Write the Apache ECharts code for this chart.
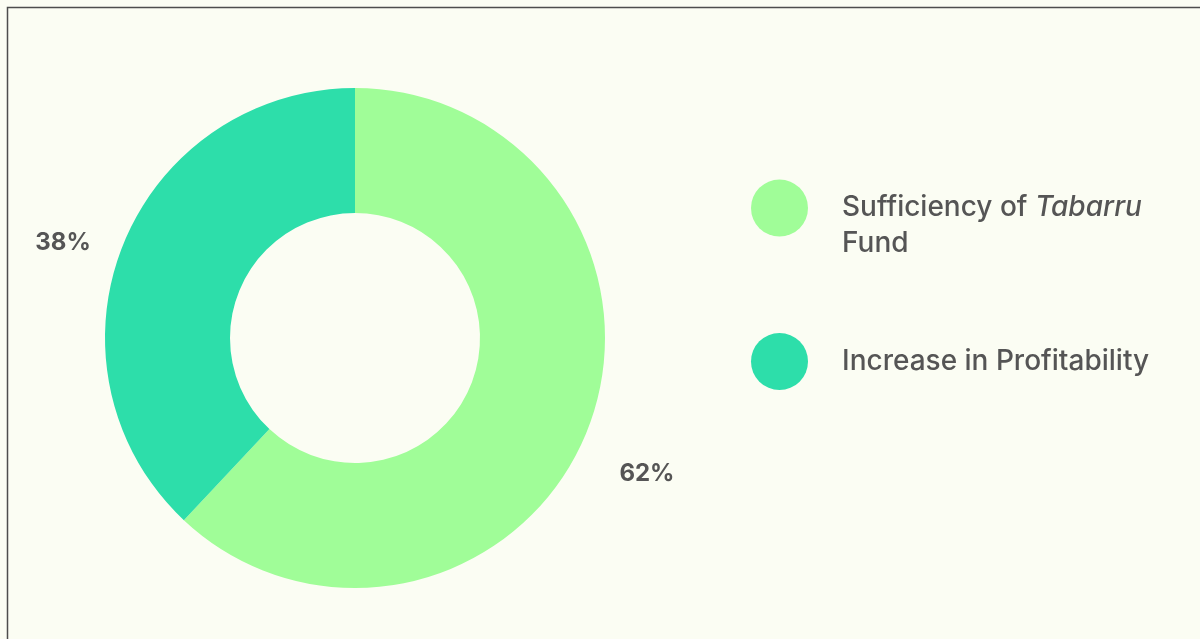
<!DOCTYPE html>
<html>
<head>
<meta charset="utf-8">
<script src="https://cdn.jsdelivr.net/npm/echarts@6/dist/echarts.min.js"></script>
<style>
html,body{margin:0;padding:0;background:#fbfdf3;}
#c{width:1200px;height:639px;}
</style>
</head>
<body>
<div id="c"></div>
<script>
const categories = ['Sufficiency of Tabarru Fund', 'Increase in Profitability'];
const values = [62, 38];
const colors = ['#a0fd98', '#2ddeaa'];

const pieData = categories.map((n, i) => ({ name: n, value: values[i], itemStyle: { color: colors[i] } }));

const chart = echarts.init(document.getElementById('c'), null, { renderer: 'canvas' });
chart.setOption({
  backgroundColor: '#fbfdf3',
  animation: false,
  graphic: [{
    type: 'rect', silent: true, z: 100,
    shape: { x: 7.5, y: 7.5, width: 1400, height: 900 },
    style: { fill: 'none', stroke: '#4d4d4d', lineWidth: 1.5 }
  }],
  legend: {
    orient: 'vertical',
    left: 751,
    top: 154,
    padding: 0,
    icon: 'circle',
    itemWidth: 57,
    itemHeight: 57,
    itemGap: 71,
    selectedMode: false,
    data: [
      { name: categories[0], textStyle: { padding: [36, 0, 0, 29] } },
      { name: categories[1] }
    ],
    formatter: function (name) {
      if (name === categories[0]) return 'Sufficiency of {i|Tabarru}\nFund';
      return name;
    },
    textStyle: {
      fontFamily: 'Inter',
      fontSize: 28,
      fontWeight: 500,
      color: '#555555',
      lineHeight: 36,
      padding: [0, 0, 0, 29],
      rich: {
        i: { fontFamily: 'Inter', fontSize: 28, fontWeight: 500, fontStyle: 'italic', color: '#555555', lineHeight: 36 }
      }
    }
  },
  series: [{
    type: 'pie',
    center: [355, 338],
    radius: [125, 250],
    startAngle: 90,
    clockwise: true,
    label: { show: false },
    labelLine: { show: false },
    emphasis: { disabled: true },
    data: pieData
  }, {
    type: 'pie',
    center: [355, 338],
    radius: [300, 322],
    startAngle: 90,
    clockwise: true,
    silent: true,
    itemStyle: { color: 'rgba(0,0,0,0)' },
    emphasis: { disabled: true },
    label: {
      show: true,
      position: 'inside',
      formatter: '{d}%',
      fontFamily: 'Inter',
      fontWeight: 'bold',
      fontSize: 24,
      color: '#555555'
    },
    labelLayout: { dy: 20 },
    labelLine: { show: false },
    data: categories.map((n, i) => ({ name: n, value: values[i], itemStyle: { color: 'rgba(0,0,0,0)' } }))
  }]
});
</script>
</body>
</html>
